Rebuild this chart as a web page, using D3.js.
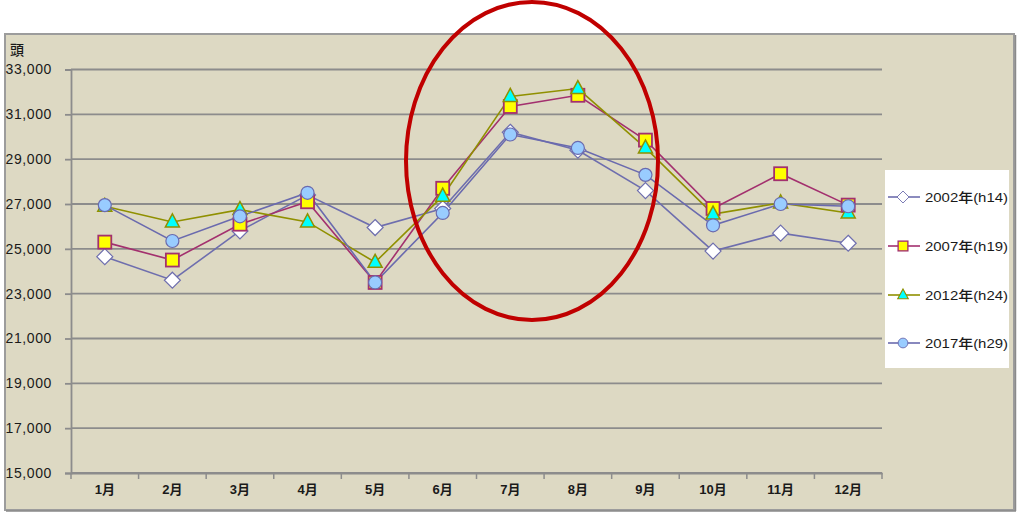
<!DOCTYPE html>
<html>
<head>
<meta charset="utf-8">
<script src="https://cdn.jsdelivr.net/npm/d3@7"></script>
<style>
  html, body { margin: 0; padding: 0; background: #ffffff; }
  svg { display: block; }
  text { font-family: "Liberation Sans", "Noto Sans CJK JP", sans-serif; fill: #1a1a1a; }
</style>
</head>
<body>
<svg id="chart" width="1024" height="519"></svg>
<script>
// ---- data ----
const months = ["1月","2月","3月","4月","5月","6月","7月","8月","9月","10月","11月","12月"];
const seriesNames = ["2002年(h14)", "2007年(h19)", "2012年(h24)", "2017年(h29)"];
const v2002 = [24650, 23600, 25800, 27400, 25950, 26800, 30200, 29400, 27600, 24900, 25700, 25250];
const v2007 = [25300, 24500, 26100, 27100, 23500, 27700, 31350, 31850, 29850, 26800, 28350, 26950];
const v2012 = [26900, 26200, 26750, 26200, 24400, 27350, 31800, 32150, 29500, 26550, 27050, 26600];
const v2017 = [26950, 25350, 26450, 27500, 23500, 26600, 30100, 29500, 28300, 26050, 27000, 26900];
const yTicks = [15000, 17000, 19000, 21000, 23000, 25000, 27000, 29000, 31000, 33000];
const yUnit = "頭";

const styles = [
  { line: "#6E6EAE", fill: "#ffffff", stroke: "#6E6EAE", shape: "diamond" },
  { line: "#A3306E", fill: "#FFFF00", stroke: "#A3306E", shape: "square" },
  { line: "#909000", fill: "#00FFFF", stroke: "#909000", shape: "triangle" },
  { line: "#6A6AAE", fill: "#99CCFF", stroke: "#6A6AAE", shape: "circle" }
];
const allSeries = [v2002, v2007, v2012, v2017];

const svg = d3.select("#chart");

// chart frame
svg.append("rect").attr("x", 5).attr("y", 34).attr("width", 1009).attr("height", 476)
  .attr("fill", "#DDD9C3").attr("stroke", "#9C9C9C").attr("stroke-width", 2);
svg.append("line").attr("x1", 1015.5).attr("x2", 1015.5).attr("y1", 35).attr("y2", 511)
  .attr("stroke", "#8a8a8a").attr("stroke-width", 1.5);
svg.append("line").attr("x1", 6).attr("x2", 1016).attr("y1", 511).attr("y2", 511)
  .attr("stroke", "#8a8a8a").attr("stroke-width", 1.5);

const plotL = 71, plotR = 882, plotT = 69.5, plotB = 473;
const x = d3.scaleBand().domain(months).range([plotL, plotR]).padding(0);
const y = d3.scaleLinear().domain([15000, 33000]).range([plotB, plotT]);

// gridlines
svg.append("g").selectAll("line").data(yTicks).join("line")
  .attr("x1", plotL).attr("x2", plotR)
  .attr("y1", d => y(d)).attr("y2", d => y(d))
  .attr("stroke", "#8C8C8C").attr("stroke-width", 1.8);

// y axis
const yAxis = svg.append("g").attr("transform", `translate(${plotL},0)`)
  .call(d3.axisLeft(y).tickValues(yTicks).tickFormat(d3.format(",")).tickSize(6).tickPadding(13));
yAxis.select(".domain").attr("stroke", "#8C8C8C").attr("stroke-width", 1.8);
yAxis.selectAll(".tick line").attr("stroke", "#8C8C8C").attr("stroke-width", 1.8);
yAxis.selectAll(".tick text").attr("font-size", 14).attr("fill", "#1a1a1a")
  .attr("font-family", "'Liberation Sans Narrow','Liberation Sans',sans-serif").attr("letter-spacing", 0.6);

svg.append("text").attr("x", 10).attr("y", 55).attr("font-size", 14)
  .attr("font-family", "'Noto Sans CJK JP',sans-serif").attr("font-weight", 500).text(yUnit);

// x axis
const xAxis = svg.append("g").attr("transform", `translate(0,${plotB})`)
  .call(d3.axisBottom(x).tickSize(0).tickPadding(12));
xAxis.select(".domain").attr("stroke", "#8C8C8C").attr("stroke-width", 1.8);
xAxis.selectAll(".tick text").attr("font-size", 13).attr("font-weight", 600)
  .attr("font-family", "'Noto Sans CJK JP',sans-serif").attr("fill", "#1a1a1a");
svg.append("g").selectAll("line").data(months.map(m => x(m)).concat([plotR])).join("line")
  .attr("x1", d => d).attr("x2", d => d).attr("y1", plotB).attr("y2", plotB + 6)
  .attr("stroke", "#8C8C8C").attr("stroke-width", 1.5);

const cx = m => x(m) + x.bandwidth() / 2;

function drawMarker(g, shape, fill, stroke) {
  if (shape === "diamond") {
    g.append("path").attr("d", "M0,-8L8,0L0,8L-8,0Z").attr("fill", fill).attr("stroke", stroke).attr("stroke-width", 1.2);
  } else if (shape === "square") {
    g.append("rect").attr("x", -6.5).attr("y", -6.5).attr("width", 13).attr("height", 13)
      .attr("fill", fill).attr("stroke", stroke).attr("stroke-width", 1.8);
  } else if (shape === "triangle") {
    g.append("path").attr("d", "M0,-8L7,5L-7,5Z").attr("fill", fill).attr("stroke", stroke).attr("stroke-width", 1.5);
  } else {
    g.append("circle").attr("r", 6.5).attr("fill", fill).attr("stroke", stroke).attr("stroke-width", 1.2);
  }
}

const line = d3.line().x((d, i) => cx(months[i])).y(d => y(d));

allSeries.forEach((vals, si) => {
  const st = styles[si];
  svg.append("path").datum(vals).attr("d", line).attr("fill", "none")
    .attr("stroke", st.line).attr("stroke-width", 1.6);
});
allSeries.forEach((vals, si) => {
  const st = styles[si];
  vals.forEach((v, i) => {
    const g = svg.append("g").attr("transform", `translate(${cx(months[i])},${y(v)})`);
    drawMarker(g, st.shape, st.fill, st.stroke);
  });
});

// legend
svg.append("rect").attr("x", 885).attr("y", 170).attr("width", 124).attr("height", 198).attr("fill", "#ffffff");
const legendY = [197, 246, 295, 343];
seriesNames.forEach((name, si) => {
  const st = styles[si];
  const ly = legendY[si];
  svg.append("line").attr("x1", 888).attr("x2", 920).attr("y1", ly).attr("y2", ly)
    .attr("stroke", st.line).attr("stroke-width", 1.6);
  const g = svg.append("g").attr("transform", `translate(903,${ly}) scale(0.75)`);
  drawMarker(g, st.shape, st.fill, st.stroke);
  svg.append("text").attr("x", 925).attr("y", ly + 5).attr("font-size", 13).attr("font-weight", 500)
    .attr("font-family", "'Noto Sans CJK JP',sans-serif").attr("textLength", 83)
    .attr("lengthAdjust", "spacingAndGlyphs").text(name);
});

// annotation ellipse
svg.append("ellipse").attr("cx", 532).attr("cy", 161).attr("rx", 126).attr("ry", 159)
  .attr("fill", "none").attr("stroke", "#C00000").attr("stroke-width", 4);
</script>
</body>
</html>
